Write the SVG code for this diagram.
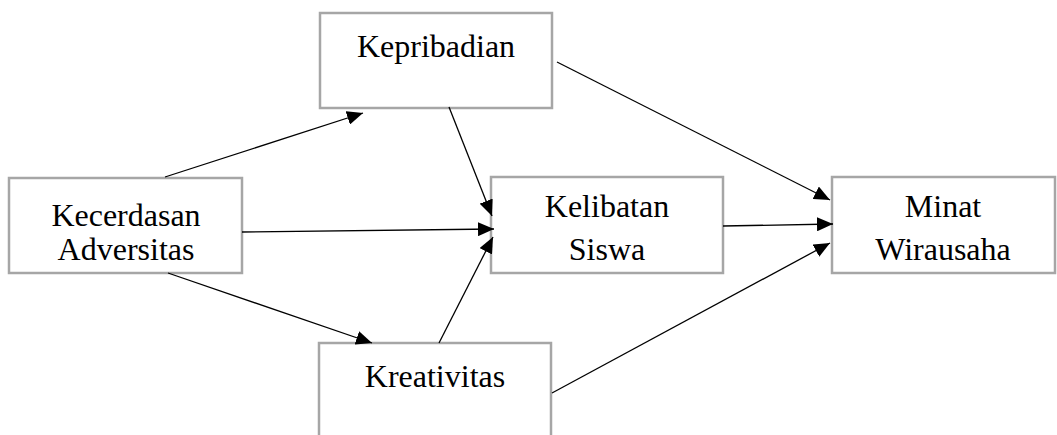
<svg xmlns="http://www.w3.org/2000/svg" width="1057" height="435" viewBox="0 0 1057 435">
<defs>
<style>
.box{fill:#ffffff;stroke:#a6a6a6;stroke-width:2.5}
.lbl{font-family:"Liberation Serif","Times New Roman",serif;font-size:32px;fill:#000;text-anchor:middle}
.edge{stroke:#000;stroke-width:1.3;fill:none;marker-end:url(#ah)}
</style>
<marker id="ah" markerUnits="userSpaceOnUse" markerWidth="16" markerHeight="14" refX="16" refY="7" orient="auto">
<path d="M0,0 L16,7 L0,14 Z" fill="#000"/>
</marker>
</defs>
<rect width="1057" height="435" fill="#fff"/>
<g id="node-kepribadian">
<rect class="box" x="320" y="13" width="232" height="95"/>
<text class="lbl" x="436" y="57">Kepribadian</text>
</g>
<g id="node-kecerdasan">
<rect class="box" x="9" y="178" width="233" height="95"/>
<text class="lbl" x="126" y="226">Kecerdasan</text>
<text class="lbl" x="126" y="260">Adversitas</text>
</g>
<g id="node-kelibatan">
<rect class="box" x="491" y="177" width="232" height="96"/>
<text class="lbl" x="607" y="217">Kelibatan</text>
<text class="lbl" x="607" y="260">Siswa</text>
</g>
<g id="node-minat">
<rect class="box" x="832" y="177" width="223" height="96"/>
<text class="lbl" x="943" y="217">Minat</text>
<text class="lbl" x="943" y="260">Wirausaha</text>
</g>
<g id="node-kreativitas">
<rect class="box" x="319" y="343" width="232" height="110"/>
<text class="lbl" x="435" y="387">Kreativitas</text>
</g>
<g id="connectors">
<line class="edge" x1="165" y1="177" x2="363" y2="113"/>
<line class="edge" x1="168" y1="273" x2="372" y2="343"/>
<line class="edge" x1="449" y1="107" x2="492" y2="216"/>
<line class="edge" x1="242" y1="232" x2="494" y2="229"/>
<line class="edge" x1="439" y1="343" x2="493" y2="237"/>
<line class="edge" x1="557" y1="62" x2="830" y2="200"/>
<line class="edge" x1="723" y1="226" x2="833" y2="224"/>
<line class="edge" x1="552" y1="393" x2="830" y2="243"/>
</g>
</svg>
